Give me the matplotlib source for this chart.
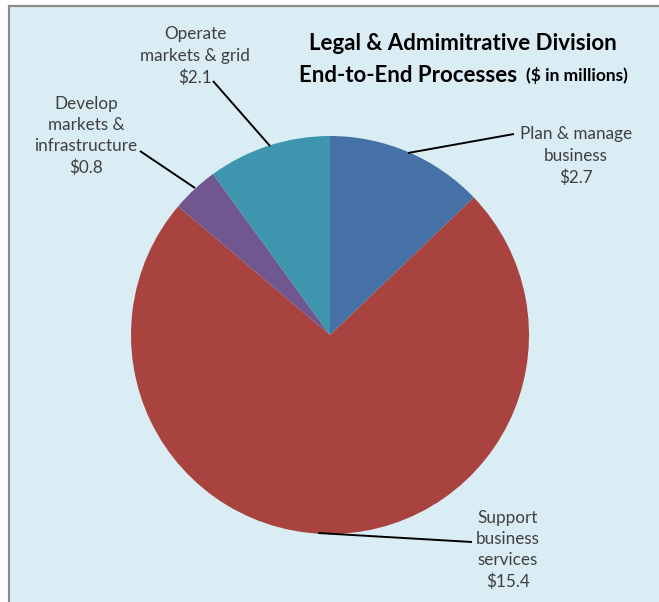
import matplotlib
matplotlib.use("Agg")
import matplotlib.pyplot as plt
from matplotlib.patches import Rectangle

plt.rcParams['font.family'] = ['Lato', 'DejaVu Sans']

categories = ["Plan & manage\nbusiness", "Support\nbusiness\nservices",
              "Develop\nmarkets &\ninfrastructure", "Operate\nmarkets & grid"]
values = [2.7, 15.4, 0.8, 2.1]
colors = ["#4571A6", "#A8433F", "#71578F", "#3E96AE"]

W, H = 659, 602
fig = plt.figure(figsize=(W / 100, H / 100), dpi=100)
fig.patch.set_facecolor("white")

# chart area background with grey frame on the left and top
bg = Rectangle((9 / W, -0.01), 1.02 - 9 / W, 1.01 - 6 / H,
               transform=fig.transFigure, facecolor="#DAEDF4",
               edgecolor="#8C8C8C", linewidth=1.6, zorder=-5)
fig.add_artist(bg)

cx, cy, r = 330, 335, 199
ax = fig.add_axes([(cx - r) / W, (H - cy - r) / H, 2 * r / W, 2 * r / H])
ax.axis("off")
ax.patch.set_alpha(0)

wedges, _ = ax.pie(values, colors=colors, startangle=90, counterclock=False,
                   radius=1.0, center=(0, 0))
ax.set_xlim(-1, 1)
ax.set_ylim(-1, 1)
ax.set_aspect("equal")

def px(x, y):
    return (x - cx) / r, (cy - y) / r

# label positions (text anchor, leader start on pie, leader end)
label_text = [f"{c}\n${v}" for c, v in zip(categories, values)]
text_pos = [px(576, 156), px(508, 550), px(86, 136), px(195, 56)]
lead_end = [px(514, 134), px(472, 542), px(140, 151), px(213, 81)]
lead_start = [px(408, 153), px(318, 533), px(195, 188), px(270, 146)]

for t, tp, le, ls in zip(label_text, text_pos, lead_end, lead_start):
    ax.text(tp[0], tp[1], t, ha="center", va="center", fontsize=12.3,
            color="#404040", linespacing=1.4, clip_on=False)
    ax.plot([ls[0], le[0]], [ls[1], le[1]], color="black", linewidth=1.4,
            clip_on=False, solid_capstyle="butt")

fig.text(463 / W, 1 - 43 / H, "Legal & Admimitrative Division", ha="center",
         va="center", fontsize=16, fontweight="bold", color="black")
fig.text(517 / W, 1 - 75 / H, "End-to-End Processes", ha="right", va="center",
         fontsize=16, fontweight="bold", color="black")
fig.text(526 / W, 1 - 75 / H, "($ in millions)", ha="left", va="center",
         fontsize=12.5, fontweight="bold", color="black")

fig.savefig("out.png", dpi=100)
